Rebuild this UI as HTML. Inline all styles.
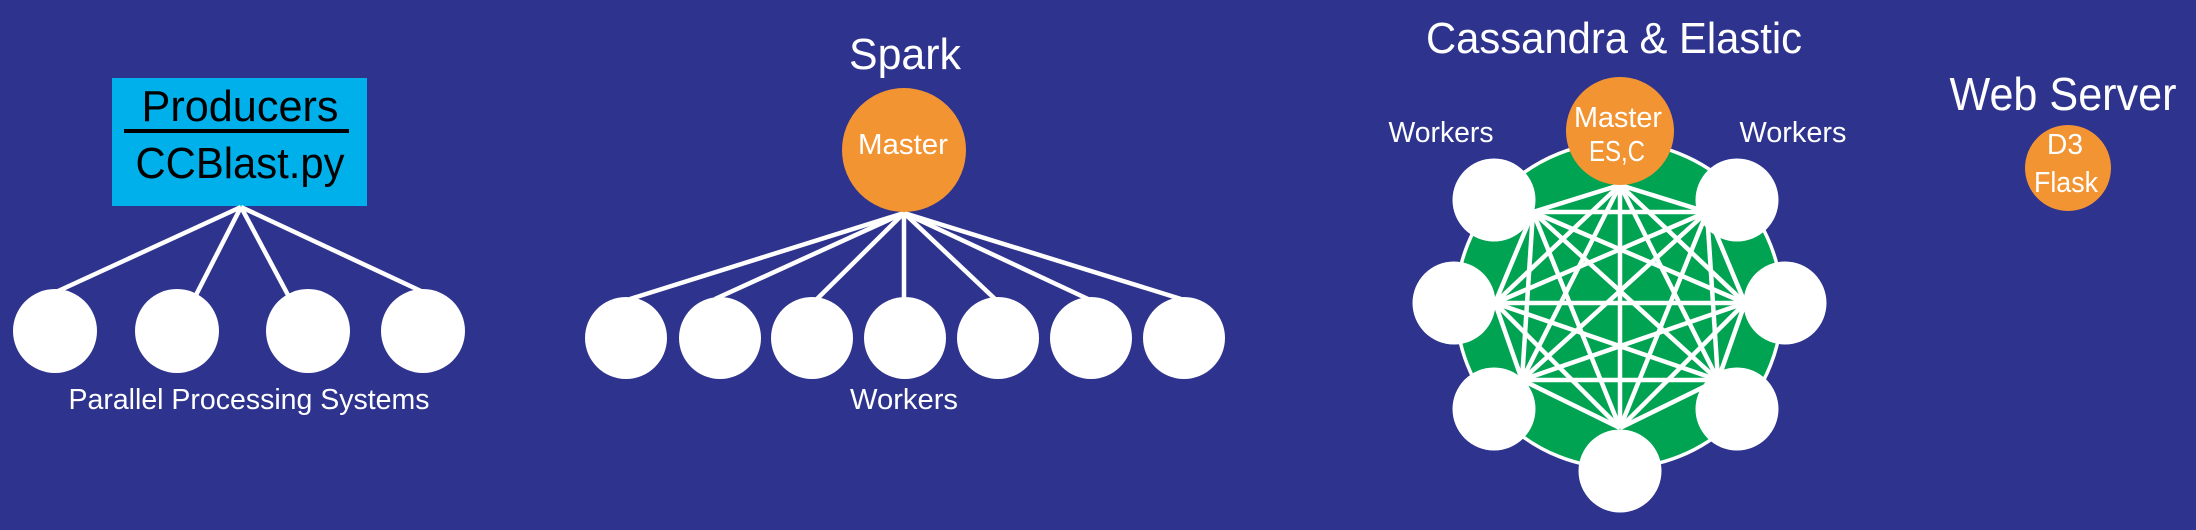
<!DOCTYPE html>
<html><head><meta charset="utf-8"><style>
html,body{margin:0;padding:0;background:#2e338e;}
svg{display:block}
text{font-family:"Liberation Sans",sans-serif;fill:#fff}
</style></head><body>
<svg width="2196" height="530" viewBox="0 0 2196 530" xmlns="http://www.w3.org/2000/svg">
<rect width="2196" height="530" fill="#2e338e"/>
<!-- Producers -->
<rect x="112" y="78" width="255" height="128" fill="#00b0ea"/>
<text x="240" y="121" font-size="44" text-anchor="middle" textLength="197" lengthAdjust="spacingAndGlyphs" style="fill:#000">Producers</text>
<rect x="124" y="129" width="225" height="4" fill="#000"/>
<text x="240" y="178" font-size="44" text-anchor="middle" textLength="209" lengthAdjust="spacingAndGlyphs" style="fill:#000">CCBlast.py</text>
<g stroke="#fff" stroke-width="4.5">
<line x1="241" y1="207" x2="56" y2="292"/>
<line x1="241" y1="207" x2="196" y2="295"/>
<line x1="241" y1="207" x2="288" y2="295"/>
<line x1="241" y1="207" x2="423" y2="292"/>
</g>
<g fill="#fff">
<circle cx="55" cy="331" r="42"/><circle cx="177" cy="331" r="42"/>
<circle cx="308" cy="331" r="42"/><circle cx="423" cy="331" r="42"/>
</g>
<text x="249" y="409" font-size="29" text-anchor="middle" textLength="361" lengthAdjust="spacingAndGlyphs">Parallel Processing Systems</text>
<!-- Spark -->
<text x="905" y="69" font-size="44" text-anchor="middle" textLength="112" lengthAdjust="spacingAndGlyphs">Spark</text>
<g stroke="#fff" stroke-width="4.5">
<line x1="904" y1="213" x2="630" y2="299"/>
<line x1="904" y1="213" x2="715" y2="299"/>
<line x1="904" y1="213" x2="817" y2="299"/>
<line x1="904" y1="213" x2="904" y2="299"/>
<line x1="904" y1="213" x2="995" y2="299"/>
<line x1="904" y1="213" x2="1088" y2="299"/>
<line x1="904" y1="213" x2="1181" y2="299"/>
</g>
<circle cx="904" cy="150" r="62" fill="#f39433"/>
<text x="903" y="154" font-size="29" text-anchor="middle" textLength="90" lengthAdjust="spacingAndGlyphs">Master</text>
<g fill="#fff">
<circle cx="626" cy="338" r="41"/><circle cx="720" cy="338" r="41"/><circle cx="812" cy="338" r="41"/>
<circle cx="905" cy="338" r="41"/><circle cx="998" cy="338" r="41"/><circle cx="1091" cy="338" r="41"/>
<circle cx="1184" cy="338" r="41"/>
</g>
<text x="904" y="409" font-size="29" text-anchor="middle" textLength="108" lengthAdjust="spacingAndGlyphs">Workers</text>
<!-- Cassandra -->
<text x="1614" y="53" font-size="44" text-anchor="middle" textLength="376" lengthAdjust="spacingAndGlyphs">Cassandra &amp; Elastic</text>
<text x="1441" y="142" font-size="29" text-anchor="middle" textLength="105" lengthAdjust="spacingAndGlyphs">Workers</text>
<text x="1793" y="142" font-size="29" text-anchor="middle" textLength="107" lengthAdjust="spacingAndGlyphs">Workers</text>
<ellipse cx="1619" cy="305" rx="163" ry="163" fill="#00a351" stroke="#fff" stroke-width="3.5"/>
<g stroke="#fff" stroke-width="4.5">
<line x1="1620" y1="185" x2="1533" y2="212"/><line x1="1620" y1="185" x2="1707" y2="212"/>
<line x1="1620" y1="185" x2="1495" y2="303"/><line x1="1620" y1="185" x2="1745" y2="303"/>
<line x1="1620" y1="185" x2="1522" y2="380"/><line x1="1620" y1="185" x2="1718" y2="380"/>
<line x1="1620" y1="185" x2="1620" y2="428"/>
<line x1="1533" y1="212" x2="1707" y2="212"/><line x1="1533" y1="212" x2="1495" y2="303"/>
<line x1="1533" y1="212" x2="1745" y2="303"/><line x1="1533" y1="212" x2="1522" y2="380"/>
<line x1="1533" y1="212" x2="1718" y2="380"/><line x1="1533" y1="212" x2="1620" y2="428"/>
<line x1="1707" y1="212" x2="1495" y2="303"/><line x1="1707" y1="212" x2="1745" y2="303"/>
<line x1="1707" y1="212" x2="1522" y2="380"/><line x1="1707" y1="212" x2="1718" y2="380"/>
<line x1="1707" y1="212" x2="1620" y2="428"/>
<line x1="1495" y1="303" x2="1745" y2="303"/><line x1="1495" y1="303" x2="1522" y2="380"/>
<line x1="1495" y1="303" x2="1718" y2="380"/><line x1="1495" y1="303" x2="1620" y2="428"/>
<line x1="1745" y1="303" x2="1522" y2="380"/><line x1="1745" y1="303" x2="1718" y2="380"/>
<line x1="1745" y1="303" x2="1620" y2="428"/>
<line x1="1522" y1="380" x2="1718" y2="380"/><line x1="1522" y1="380" x2="1620" y2="428"/>
<line x1="1718" y1="380" x2="1620" y2="428"/>
</g>
<circle cx="1620" cy="131" r="54" fill="#f39433"/>
<text x="1618" y="127" font-size="29" text-anchor="middle" textLength="88" lengthAdjust="spacingAndGlyphs">Master</text>
<text x="1617" y="161" font-size="29" text-anchor="middle" textLength="56" lengthAdjust="spacingAndGlyphs">ES,C</text>
<g fill="#fff">
<circle cx="1494" cy="200" r="41.5"/><circle cx="1737" cy="200" r="41.5"/>
<circle cx="1454" cy="303" r="41.5"/><circle cx="1785" cy="303" r="41.5"/>
<circle cx="1494" cy="409" r="41.5"/><circle cx="1737" cy="409" r="41.5"/>
<circle cx="1620" cy="471" r="41.5"/>
</g>
<!-- Web server -->
<text x="2063" y="110" font-size="46" text-anchor="middle" textLength="227" lengthAdjust="spacingAndGlyphs">Web Server</text>
<circle cx="2068" cy="168" r="43" fill="#f39433"/>
<text x="2065" y="154" font-size="29" text-anchor="middle" textLength="36" lengthAdjust="spacingAndGlyphs">D3</text>
<text x="2066" y="192" font-size="29" text-anchor="middle" textLength="64" lengthAdjust="spacingAndGlyphs">Flask</text>
</svg>
</body></html>
